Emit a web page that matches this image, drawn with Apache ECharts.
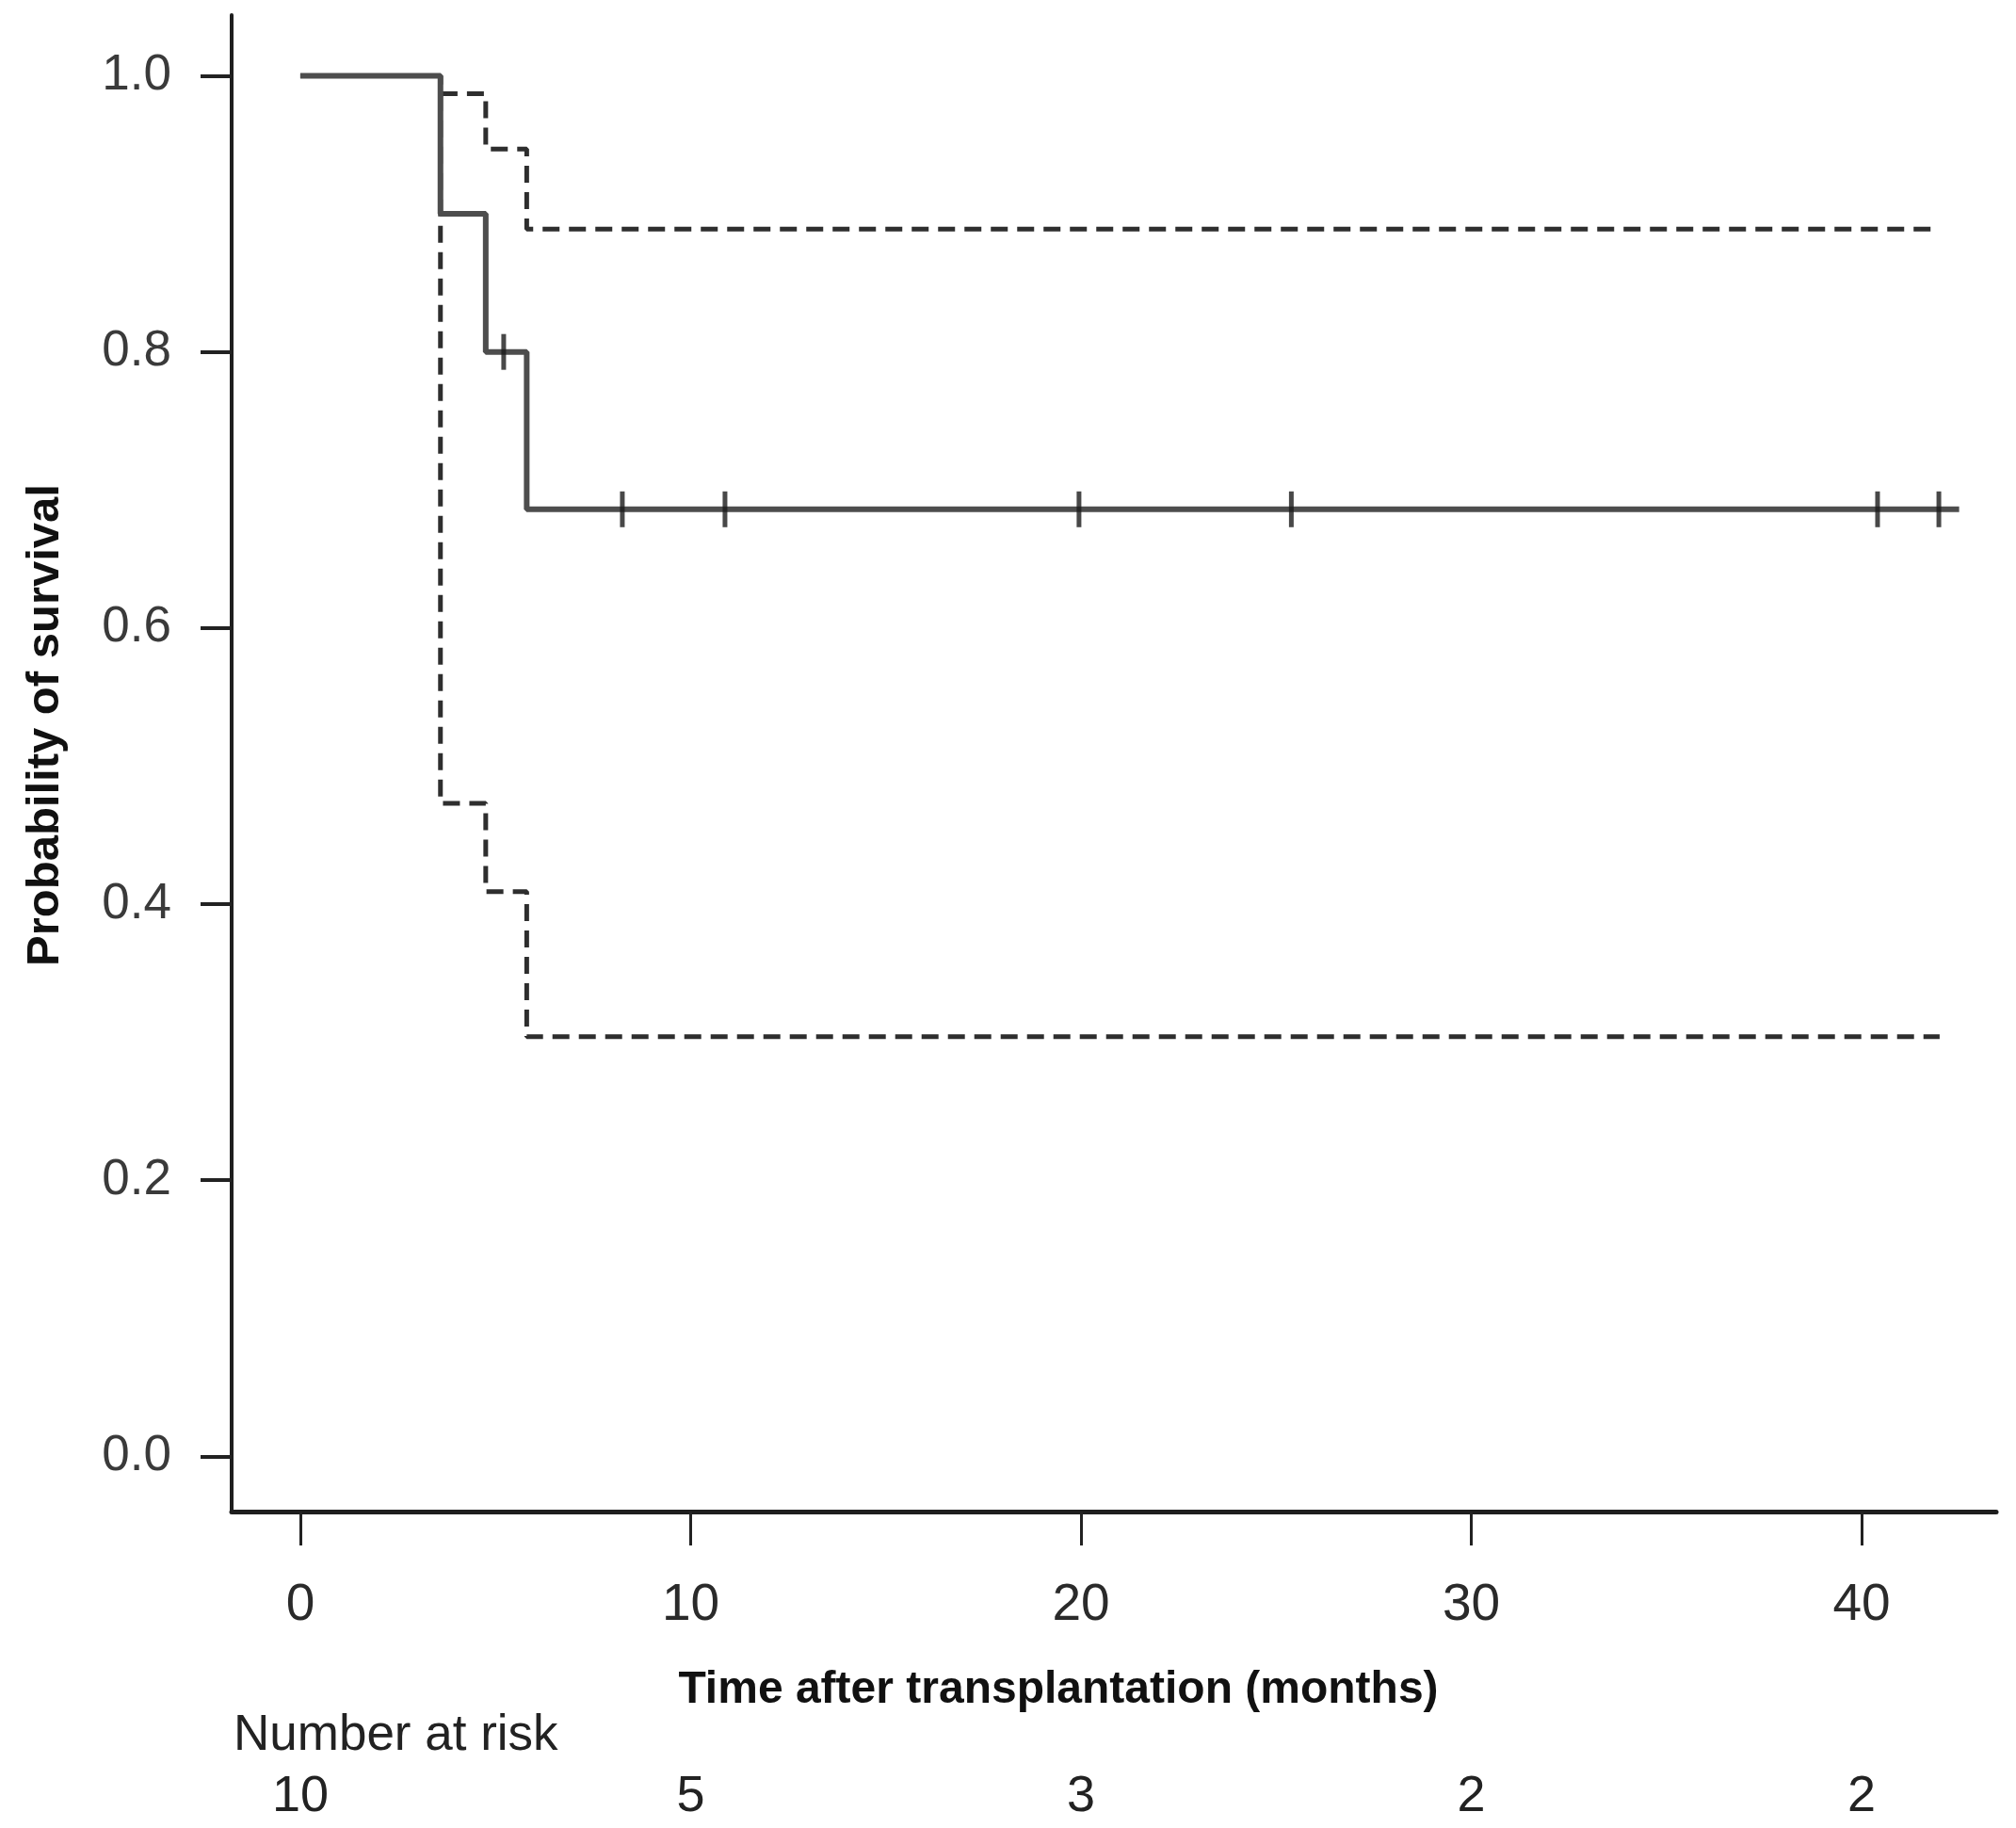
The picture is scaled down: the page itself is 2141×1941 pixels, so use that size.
<!DOCTYPE html>
<html>
<head>
<meta charset="utf-8">
<script src="https://cdn.jsdelivr.net/npm/echarts@6/dist/echarts.min.js"></script>
<style>
html,body{margin:0;padding:0;background:#fff;}
#chart{width:2141px;height:1941px;}
</style>
</head>
<body>
<div id="chart"></div>
<script>
// ---- data ----
const timeTicks = [0, 10, 20, 30, 40];
const riskCounts = [10, 5, 3, 2, 2];
const probTicks = [0, 0.2, 0.4, 0.6, 0.8, 1.0];

const survTimes = [0, 3.59, 4.75, 5.8, 42.5];
const survValues = [1.0, 0.9, 0.8, 0.686, 0.686];

const upperTimes = [0, 3.59, 4.75, 5.8, 42.0];
const upperValues = [1.0, 0.987, 0.947, 0.889, 0.889];

const lowerTimes = [0, 3.59, 4.75, 5.8, 42.0];
const lowerValues = [1.0, 0.473, 0.409, 0.304, 0.304];

const censorTimes = [5.21, 8.25, 10.88, 19.95, 25.39, 40.41, 41.98];
const censorValues = [0.8, 0.686, 0.686, 0.686, 0.686, 0.686, 0.686];

const xTitle = 'Time after transplantation (months)';
const yTitle = 'Probability of survival';
const riskTitle = 'Number at risk';

function pairs(xs, ys) { return xs.map((x, i) => [x, ys[i]]); }

const X_MIN = -1.76, X_MAX = 43.45;
const Y_MIN = -0.04, Y_MAX = 1.044;

const chart = echarts.init(document.getElementById('chart'), null, {renderer: 'canvas'});
const baseFont = 'Liberation Sans, Arial, sans-serif';

const option = {
  backgroundColor: '#ffffff',
  animation: false,
  grid: {left: 246, top: 16, right: 21, bottom: 336, containLabel: false},
  xAxis: [
    {
      type: 'value', min: X_MIN, max: X_MAX,
      splitLine: {show: false},
      axisLine: {show: true, onZero: false, lineStyle: {color: '#1e1e1e', width: 5}},
      axisTick: {show: true, customValues: timeTicks, length: 36, lineStyle: {color: '#222', width: 3}},
      axisLabel: {show: true, customValues: timeTicks, margin: 72, fontSize: 55, color: '#2a2a2a', fontFamily: baseFont,
        formatter: v => String(v)}
    },
    {
      type: 'value', min: X_MIN, max: X_MAX, position: 'bottom', offset: 276,
      splitLine: {show: false},
      axisLine: {show: false},
      axisTick: {show: false},
      axisLabel: {show: true, customValues: timeTicks, margin: 0, fontSize: 54, color: '#222', fontFamily: baseFont,
        formatter: v => { const i = timeTicks.indexOf(Math.round(v)); return i >= 0 ? String(riskCounts[i]) : ''; }}
    }
  ],
  yAxis: {
    type: 'value', min: Y_MIN, max: Y_MAX,
    splitLine: {show: false},
    axisLine: {show: true, onZero: false, lineStyle: {color: '#1e1e1e', width: 4}},
    axisTick: {show: true, customValues: probTicks, length: 33, lineStyle: {color: '#222', width: 4}},
    axisLabel: {show: true, customValues: probTicks, margin: 64, fontSize: 53, color: '#3a3a3a', fontFamily: baseFont,
      formatter: v => v.toFixed(1)}
  },
  graphic: [
    {type: 'text', z: 10, position: [1124, 1795],
      style: {text: xTitle, fontSize: 48, fontWeight: 'bold', fontFamily: baseFont, fill: '#111',
        align: 'center', verticalAlign: 'middle'}},
    {type: 'text', z: 10, position: [48, 770], rotation: Math.PI / 2,
      style: {text: yTitle, fontSize: 49, fontWeight: 'bold', fontFamily: baseFont, fill: '#111',
        align: 'center', verticalAlign: 'middle'}},
    {type: 'text', z: 10, position: [248, 1843],
      style: {text: riskTitle, fontSize: 53, fontFamily: baseFont, fill: '#222',
        align: 'left', verticalAlign: 'middle'}}
  ],
  series: [
    {
      type: 'line', name: 'upper', step: 'end', showSymbol: false, symbol: 'none', z: 2,
      data: pairs(upperTimes, upperValues),
      lineStyle: {color: '#2e2e2e', width: 5, type: [18, 10]}
    },
    {
      type: 'line', name: 'lower', step: 'end', showSymbol: false, symbol: 'none', z: 2,
      data: pairs(lowerTimes, lowerValues),
      lineStyle: {color: '#2e2e2e', width: 5, type: [18, 10]}
    },
    {
      type: 'line', name: 'survival', step: 'end', showSymbol: false, symbol: 'none', z: 3,
      data: pairs(survTimes, survValues),
      lineStyle: {color: '#4d4d4d', width: 6}
    },
    {
      type: 'scatter', name: 'censored', z: 4,
      data: pairs(censorTimes, censorValues),
      symbol: 'rect', symbolSize: [5, 38],
      itemStyle: {color: '#1a1a1a'}
    }
  ]
};
chart.setOption(option);
</script>
</body>
</html>
